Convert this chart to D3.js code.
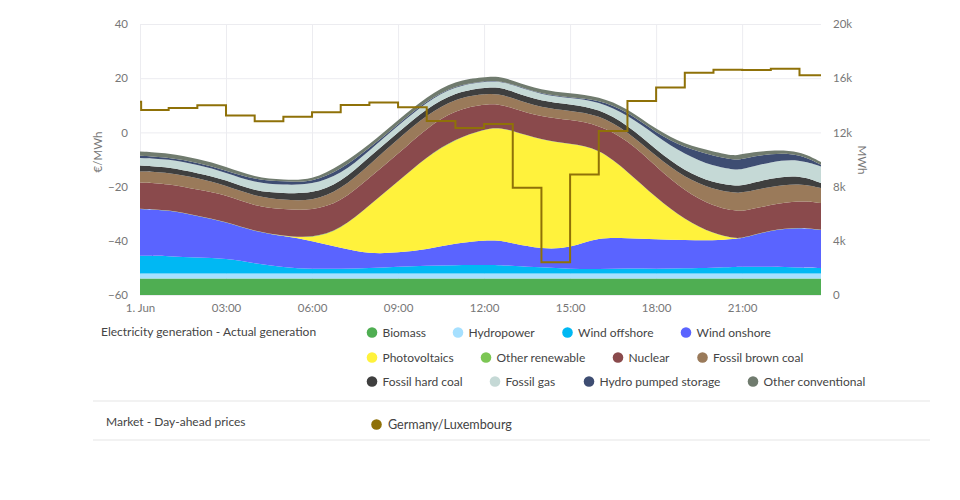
<!DOCTYPE html>
<html>
<head>
<meta charset="utf-8">
<script src="https://cdn.jsdelivr.net/npm/d3@7"></script>
<style>
  html, body { margin: 0; background: #fff; }
  text { font-family: Lato, sans-serif; }
  .axis text { fill: #777; font-size: 11.5px; }
  .axis .domain { display: none; }
  .axis line { stroke: #ececf0; }
  .legend text { fill: #444; font-size: 12px; }
</style>
</head>
<body>
<svg id="chart" width="960" height="500"></svg>
<script>
// hour of day for every sample of the generation series
var hours = [0, 1, 2, 3, 4, 5, 6, 7, 8, 9, 10, 11, 12, 12.5, 13, 14, 15, 16, 17, 18, 19, 20, 20.75, 21, 22, 23, 23.75];

// MWh
var biomass = [1220, 1220, 1220, 1220, 1220, 1220, 1220, 1220, 1220, 1220, 1220, 1220, 1220, 1220, 1220, 1220, 1220, 1220, 1220, 1220, 1220, 1220, 1220, 1220, 1220, 1220, 1220];
var hydro = [370, 370, 370, 370, 370, 370, 370, 370, 370, 370, 370, 370, 370, 370, 370, 370, 370, 370, 370, 370, 370, 370, 370, 370, 370, 370, 370];
var windOffshore = [1310, 1290, 1160, 1120, 750, 450, 330, 350, 380, 500, 570, 620, 620, 620, 570, 450, 330, 310, 380, 330, 380, 425, 490, 500, 500, 425, 400];
var windOnshore = [3447, 3395, 3077, 2679, 2333, 2310, 2088, 1528, 1056, 1033, 1211, 1601, 1823, 1823, 1653, 1351, 1527, 2383, 2214, 2192, 2089, 1992, 2075, 2081, 2708, 2981, 2804];
var photovoltaics = [0, 0, 0, 0, 0, 0, 162, 1350, 3579, 5240, 6834, 7697, 8192, 8310, 8288, 8044, 7697, 6531, 4915, 3048, 1476, 472, 15, 0, 0, 0, 0];
var otherRenewable = [20, 20, 20, 20, 20, 20, 20, 20, 20, 20, 20, 20, 20, 20, 20, 20, 20, 20, 20, 20, 20, 20, 20, 20, 20, 20, 20];
var nuclear = [1941, 1919, 1919, 1993, 1845, 1970, 2030, 2007, 2030, 2022, 2118, 2140, 1845, 1727, 1675, 1675, 1771, 1734, 2339, 2310, 2089, 2037, 2030, 1978, 1845, 1963, 1970];
var brownCoal = [812, 834, 863, 686, 738, 686, 686, 923, 959, 1100, 959, 863, 760, 760, 738, 664, 664, 738, 612, 738, 989, 1232, 1328, 1358, 1351, 1284, 1107];
var hardCoal = [443, 399, 369, 421, 369, 494, 568, 517, 590, 487, 494, 443, 465, 502, 487, 487, 494, 443, 494, 494, 487, 494, 517, 539, 620, 613, 369];
var fossilGas = [546, 590, 613, 539, 620, 613, 664, 590, 465, 494, 487, 465, 443, 435, 494, 494, 443, 539, 738, 1033, 1232, 1225, 1181, 1181, 1225, 1159, 1225];
var pumpedStorage = [170, 118, 170, 148, 244, 244, 170, 369, 177, 125, 74, 52, 30, 22, 52, 52, 44, 125, 244, 199, 494, 790, 700, 800, 600, 400, 125];
var otherConventional = [317, 325, 273, 295, 170, 125, 148, 332, 244, 295, 295, 339, 295, 332, 266, 266, 325, 258, 251, 244, 244, 317, 295, 369, 244, 199, 199];

// day-ahead price, EUR/MWh. first entry is the last hour of the day before, it only shows as a small tick
var priceHours = [0, 0.04, 1, 2, 3, 4, 5, 6, 7, 8, 9, 10, 11, 12, 13, 14, 15, 16, 17, 18, 19, 20, 21, 22, 23, 23.75];
var prices = [11.3, 8.3, 9.0, 10.0, 6.2, 4.1, 5.8, 7.4, 10.1, 11.0, 9.3, 4.2, 1.6, 3.1, -20.4, -47.9, -15.5, 0.5, 11.6, 16.6, 22.0, 23.1, 23.0, 23.5, 21.1, 21.1];

var xTicks = [0, 3, 6, 9, 12, 15, 18, 21];
var xLabels = ['1. Jun', '03:00', '06:00', '09:00', '12:00', '15:00', '18:00', '21:00'];
var priceTicks = [-60, -40, -20, 0, 20, 40];
var energyTicks = [0, 4000, 8000, 12000, 16000, 20000];

var names = ['Biomass', 'Hydropower', 'Wind offshore', 'Wind onshore', 'Photovoltaics', 'Other renewable', 'Nuclear', 'Fossil brown coal', 'Fossil hard coal', 'Fossil gas', 'Hydro pumped storage', 'Other conventional'];
var colors = ['#4fae52', '#a6e0ff', '#00b8f3', '#5a64ff', '#fff23c', '#7cc654', '#8a4a4c', '#9a7a5a', '#3f3f3f', '#c5d9d6', '#3e4d72', '#707b6e'];
var seriesValues = [biomass, hydro, windOffshore, windOnshore, photovoltaics, otherRenewable, nuclear, brownCoal, hardCoal, fossilGas, pumpedStorage, otherConventional];

var svg = d3.select('#chart');
var plotLeft = 140, plotRight = 821, plotTop = 24, plotBottom = 295;

var x = d3.scaleLinear().domain([0, 23.75]).range([plotLeft, plotRight]);
var yPrice = d3.scaleLinear().domain([-60, 40]).range([plotBottom, plotTop]);
var yEnergy = d3.scaleLinear().domain([0, 20000]).range([plotBottom, plotTop]);

// grid + tick labels
var axisX = d3.axisBottom(x).tickValues(xTicks).tickSize(-(plotBottom - plotTop)).tickPadding(9)
    .tickFormat((d, i) => xLabels[i]);
svg.append('g').attr('class', 'axis').attr('transform', 'translate(0,' + plotBottom + ')').call(axisX);

var axisL = d3.axisLeft(yPrice).tickValues(priceTicks).tickSize(-(plotRight - plotLeft)).tickPadding(12);
svg.append('g').attr('class', 'axis').attr('transform', 'translate(' + plotLeft + ',0)').call(axisL);

var axisR = d3.axisRight(yEnergy).tickValues(energyTicks).tickSize(0).tickPadding(12)
    .tickFormat(d => d ? d / 1000 + 'k' : '0');
svg.append('g').attr('class', 'axis').attr('transform', 'translate(' + plotRight + ',0)').call(axisR);

// stacked areas
var rows = hours.map((h, i) => {
    var row = { hour: h };
    names.forEach((n, k) => row[n] = seriesValues[k][i]);
    return row;
});
var stack = d3.stack().keys(names)(rows);
var area = d3.area()
    .x(d => x(d.data.hour))
    .y0(d => yEnergy(d[0]))
    .y1(d => yEnergy(d[1]))
    .curve(d3.curveBasis);

svg.append('g').selectAll('path').data(stack).enter().append('path')
    .attr('d', area)
    .attr('fill', (d, i) => colors[i]);

// price line
var priceLine = d3.line()
    .x((d, i) => x(priceHours[i]))
    .y(d => yPrice(d))
    .curve(d3.curveStepAfter);
svg.append('path').datum(prices)
    .attr('d', priceLine)
    .attr('fill', 'none')
    .attr('stroke', '#8f7108')
    .attr('stroke-width', 2);

// axis titles
svg.append('text').attr('transform', 'translate(102,152) rotate(-90)')
    .attr('text-anchor', 'middle').attr('fill', '#777').attr('font-size', 11.5).text('€/MWh');
svg.append('text').attr('transform', 'translate(858,160) rotate(90)')
    .attr('text-anchor', 'middle').attr('fill', '#777').attr('font-size', 11.5).text('MWh');

// legend
var legend = svg.append('g').attr('class', 'legend');
var rowY = [332, 357, 381];
var dotX = [372, 458, 567.5, 686, 372, 486, 618, 702.5, 372, 495, 589, 753];

names.forEach((n, i) => {
    var yy = rowY[Math.floor(i / 4)];
    legend.append('circle').attr('cx', dotX[i]).attr('cy', yy + 0.5).attr('r', 5.3).attr('fill', colors[i]);
    legend.append('text').attr('x', dotX[i] + 10.5).attr('y', yy + 4.5).text(n);
});
legend.append('text').attr('x', 101).attr('y', 335.5).text('Electricity generation - Actual generation');
legend.append('text').attr('x', 106).attr('y', 426).text('Market - Day-ahead prices');
legend.append('circle').attr('cx', 376.5).attr('cy', 424.5).attr('r', 5.3).attr('fill', '#8f7108');
legend.append('text').attr('x', 388).attr('y', 429).style('font-size', '12.6px').text('Germany/Luxembourg');

[401, 440].forEach(yy => {
    svg.append('line').attr('x1', 93).attr('x2', 930).attr('y1', yy).attr('y2', yy)
        .attr('stroke', '#eeeeee').attr('stroke-width', 1.5);
});
</script>
</body>
</html>
